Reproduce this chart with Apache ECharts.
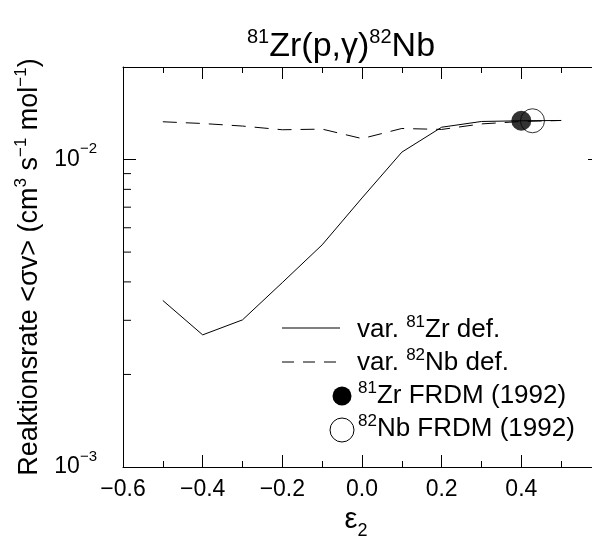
<!DOCTYPE html>
<html><head><meta charset="utf-8">
<script src="https://cdn.jsdelivr.net/npm/echarts@6/dist/echarts.min.js"></script>
<style>html,body{margin:0;padding:0;background:#fff}#c{width:592px;height:541px}</style>
</head><body><div id="c"></div>
<script>
// ---- data ----
const eps2 = [-0.5, -0.4, -0.3, -0.2, -0.1, 0.0, 0.1, 0.2, 0.3, 0.4, 0.5];
const rateZrDef = [3.48e-3, 2.69e-3, 3.01e-3, 3.98e-3, 5.28e-3, 7.5e-3, 1.057e-2, 1.274e-2, 1.33e-2, 1.337e-2, 1.34e-2];
const rateNbDef = [1.327e-2, 1.31e-2, 1.285e-2, 1.25e-2, 1.256e-2, 1.17e-2, 1.262e-2, 1.253e-2, 1.306e-2, 1.33e-2, 1.34e-2];
const frdmZr = [[0.40, 1.337e-2]];
const frdmNb = [[0.428, 1.337e-2]];
const xTickLabelValues = [-0.6, -0.4, -0.2, 0.0, 0.2, 0.4];
const yTickExponents = [-3, -2];
const yMinorTicks = [0.002, 0.003, 0.004, 0.005, 0.006, 0.007, 0.008, 0.009];
const legendLabels = [
  '{m|var. }{s|81}{m|Zr def.}',
  '{m|var. }{s|82}{m|Nb def.}',
  '{s|81}{m|Zr FRDM (1992)}',
  '{s|82}{m|Nb FRDM (1992)}'
];

const FF = '"Liberation Sans", Arial, Helvetica, sans-serif';
const black = '#000';
const chart = echarts.init(document.getElementById('c'), null, {renderer: 'canvas'});

// tall line for the main text (centred), superscript pinned to the line top
function supRich(main, sup, lineH) {
  return {
    m: {fontSize: main, lineHeight: lineH, fontFamily: FF, color: black, fontWeight: 'normal'},
    s: {fontSize: sup, lineHeight: sup, fontFamily: FF, color: black, fontWeight: 'normal', verticalAlign: 'top'}
  };
}

const xAxisCommon = {
  type: 'value', min: -0.6, max: 0.6, interval: 0.2,
  axisLine: {show: true, onZero: false, lineStyle: {color: black, width: 1}},
  axisTick: {show: true, inside: true, length: 12, lineStyle: {color: black, width: 1}},
  minorTick: {show: true, splitNumber: 2, length: 6, lineStyle: {color: black, width: 1}},
  splitLine: {show: false}, minorSplitLine: {show: false}
};
const yAxisCommon = {
  type: 'log', logBase: 10, min: 0.001, max: 0.02,
  axisLine: {show: true, onZero: false, lineStyle: {color: black, width: 1}},
  axisTick: {show: true, inside: true, length: 13, lineStyle: {color: black, width: 1}},
  minorTick: {show: false},
  splitLine: {show: false}, minorSplitLine: {show: false}
};

const legendY = [328, 362, 396, 430];
const legendTextY = [330, 363, 396, 429];

const option = {
  backgroundColor: '#fff',
  animation: false,
  title: {
    text: '{s|81}{m|Zr(p,γ)}{s|82}{m|Nb}',
    left: 242, top: 22,
    textStyle: {fontWeight: 'normal', rich: supRich(34, 20, 40)}
  },
  grid: {left: 123, right: -9, top: 67, bottom: 74, containLabel: false, outerBoundsMode: 'none'},
  xAxis: [
    Object.assign({}, xAxisCommon, {
      position: 'bottom',
      name: '{m|ε}{s|2}{h|\u200b}',
      nameLocation: 'middle', nameGap: 38,
      nameTextStyle: {rich: {
        m: {fontSize: 29, lineHeight: 28, fontFamily: FF, color: black, verticalAlign: 'top'},
        s: {fontSize: 18, lineHeight: 18, fontFamily: FF, color: black, verticalAlign: 'bottom'},
        h: {fontSize: 10, lineHeight: 34, width: 12}
      }},
      axisLabel: {
        show: true, margin: 11, color: black, fontSize: 23, fontFamily: FF,
        formatter: v => xTickLabelValues.some(t => Math.abs(t - v) < 1e-9)
          ? (v < -1e-9 ? '\u2212' : '') + Math.abs(v).toFixed(1) : ''
      }
    }),
    Object.assign({}, xAxisCommon, {position: 'top', axisLabel: {show: false}})
  ],
  yAxis: [
    Object.assign({}, yAxisCommon, {
      position: 'left',
      name: '{m|Reaktionsrate <σv> (cm}{s|3}{m| s}{s|\u22121}{m| mol}{s|\u22121}{m|)}',
      nameLocation: 'middle', nameRotate: 90, nameGap: 72,
      nameTextStyle: {rich: supRich(27, 17, 34)},
      axisLabel: {
        show: true, margin: 26,
        rich: {
          b: {fontSize: 23, lineHeight: 36, fontFamily: FF, color: black},
          e: {fontSize: 15, lineHeight: 15, fontFamily: FF, color: black, verticalAlign: 'top'}
        },
        formatter: v => {
          const e = Math.log10(v);
          const r = Math.round(e);
          if (Math.abs(e - r) > 1e-6 || yTickExponents.indexOf(r) < 0) return '';
          return '{b|10}{e|' + (r < 0 ? '\u2212' : '') + Math.abs(r) + '}';
        }
      }
    }),
    Object.assign({}, yAxisCommon, {position: 'right', axisLabel: {show: false}})
  ],
  series: [
    {
      name: 'var. 81Zr def.', type: 'line', xAxisIndex: 0, yAxisIndex: 0,
      data: eps2.map((x, i) => [x, rateZrDef[i]]),
      showSymbol: false, symbol: 'none',
      lineStyle: {color: black, width: 1}
    },
    {
      name: 'var. 82Nb def.', type: 'line', xAxisIndex: 0, yAxisIndex: 0,
      data: eps2.map((x, i) => [x, rateNbDef[i]]),
      showSymbol: false, symbol: 'none',
      lineStyle: {color: black, width: 1, type: [14, 9]}
    },
    {
      name: '82Nb FRDM (1992)', type: 'scatter', data: frdmNb, symbol: 'circle', symbolSize: 24,
      itemStyle: {color: 'rgba(0,0,0,0)', borderColor: black, borderWidth: 1}, z: 3
    },
    {
      name: '81Zr FRDM (1992)', type: 'scatter', data: frdmZr, symbol: 'circle', symbolSize: 20,
      itemStyle: {color: black, borderColor: black, borderWidth: 0}, z: 4
    },
    {
      name: 'minor ticks', type: 'custom', clip: false, silent: true,
      data: yMinorTicks.map(v => [-0.6, v]),
      renderItem: (params, api) => {
        const p = api.coord([api.value(0), api.value(1)]);
        return {type: 'line', shape: {x1: p[0], y1: p[1], x2: p[0] + 8, y2: p[1]},
                style: {stroke: black, lineWidth: 1}};
      }
    }
  ],
  graphic: [
    {type: 'line', shape: {x1: 282, y1: legendY[0], x2: 340, y2: legendY[0]}, style: {stroke: black, lineWidth: 1}},
    {type: 'line', shape: {x1: 282, y1: legendY[1], x2: 340, y2: legendY[1]}, style: {stroke: black, lineWidth: 1, lineDash: [12, 9]}},
    {type: 'circle', shape: {cx: 342, cy: legendY[2], r: 9.5}, style: {fill: black}},
    {type: 'circle', shape: {cx: 342, cy: legendY[3], r: 12}, style: {fill: 'none', stroke: black, lineWidth: 1}},
    ...legendLabels.map((t, i) => ({
      type: 'text', x: i < 2 ? 357 : 358, y: legendTextY[i],
      style: {text: t, verticalAlign: 'middle', align: 'left', rich: supRich(26, 17, 32)}
    }))
  ]
};
chart.setOption(option);
</script>
</body></html>
